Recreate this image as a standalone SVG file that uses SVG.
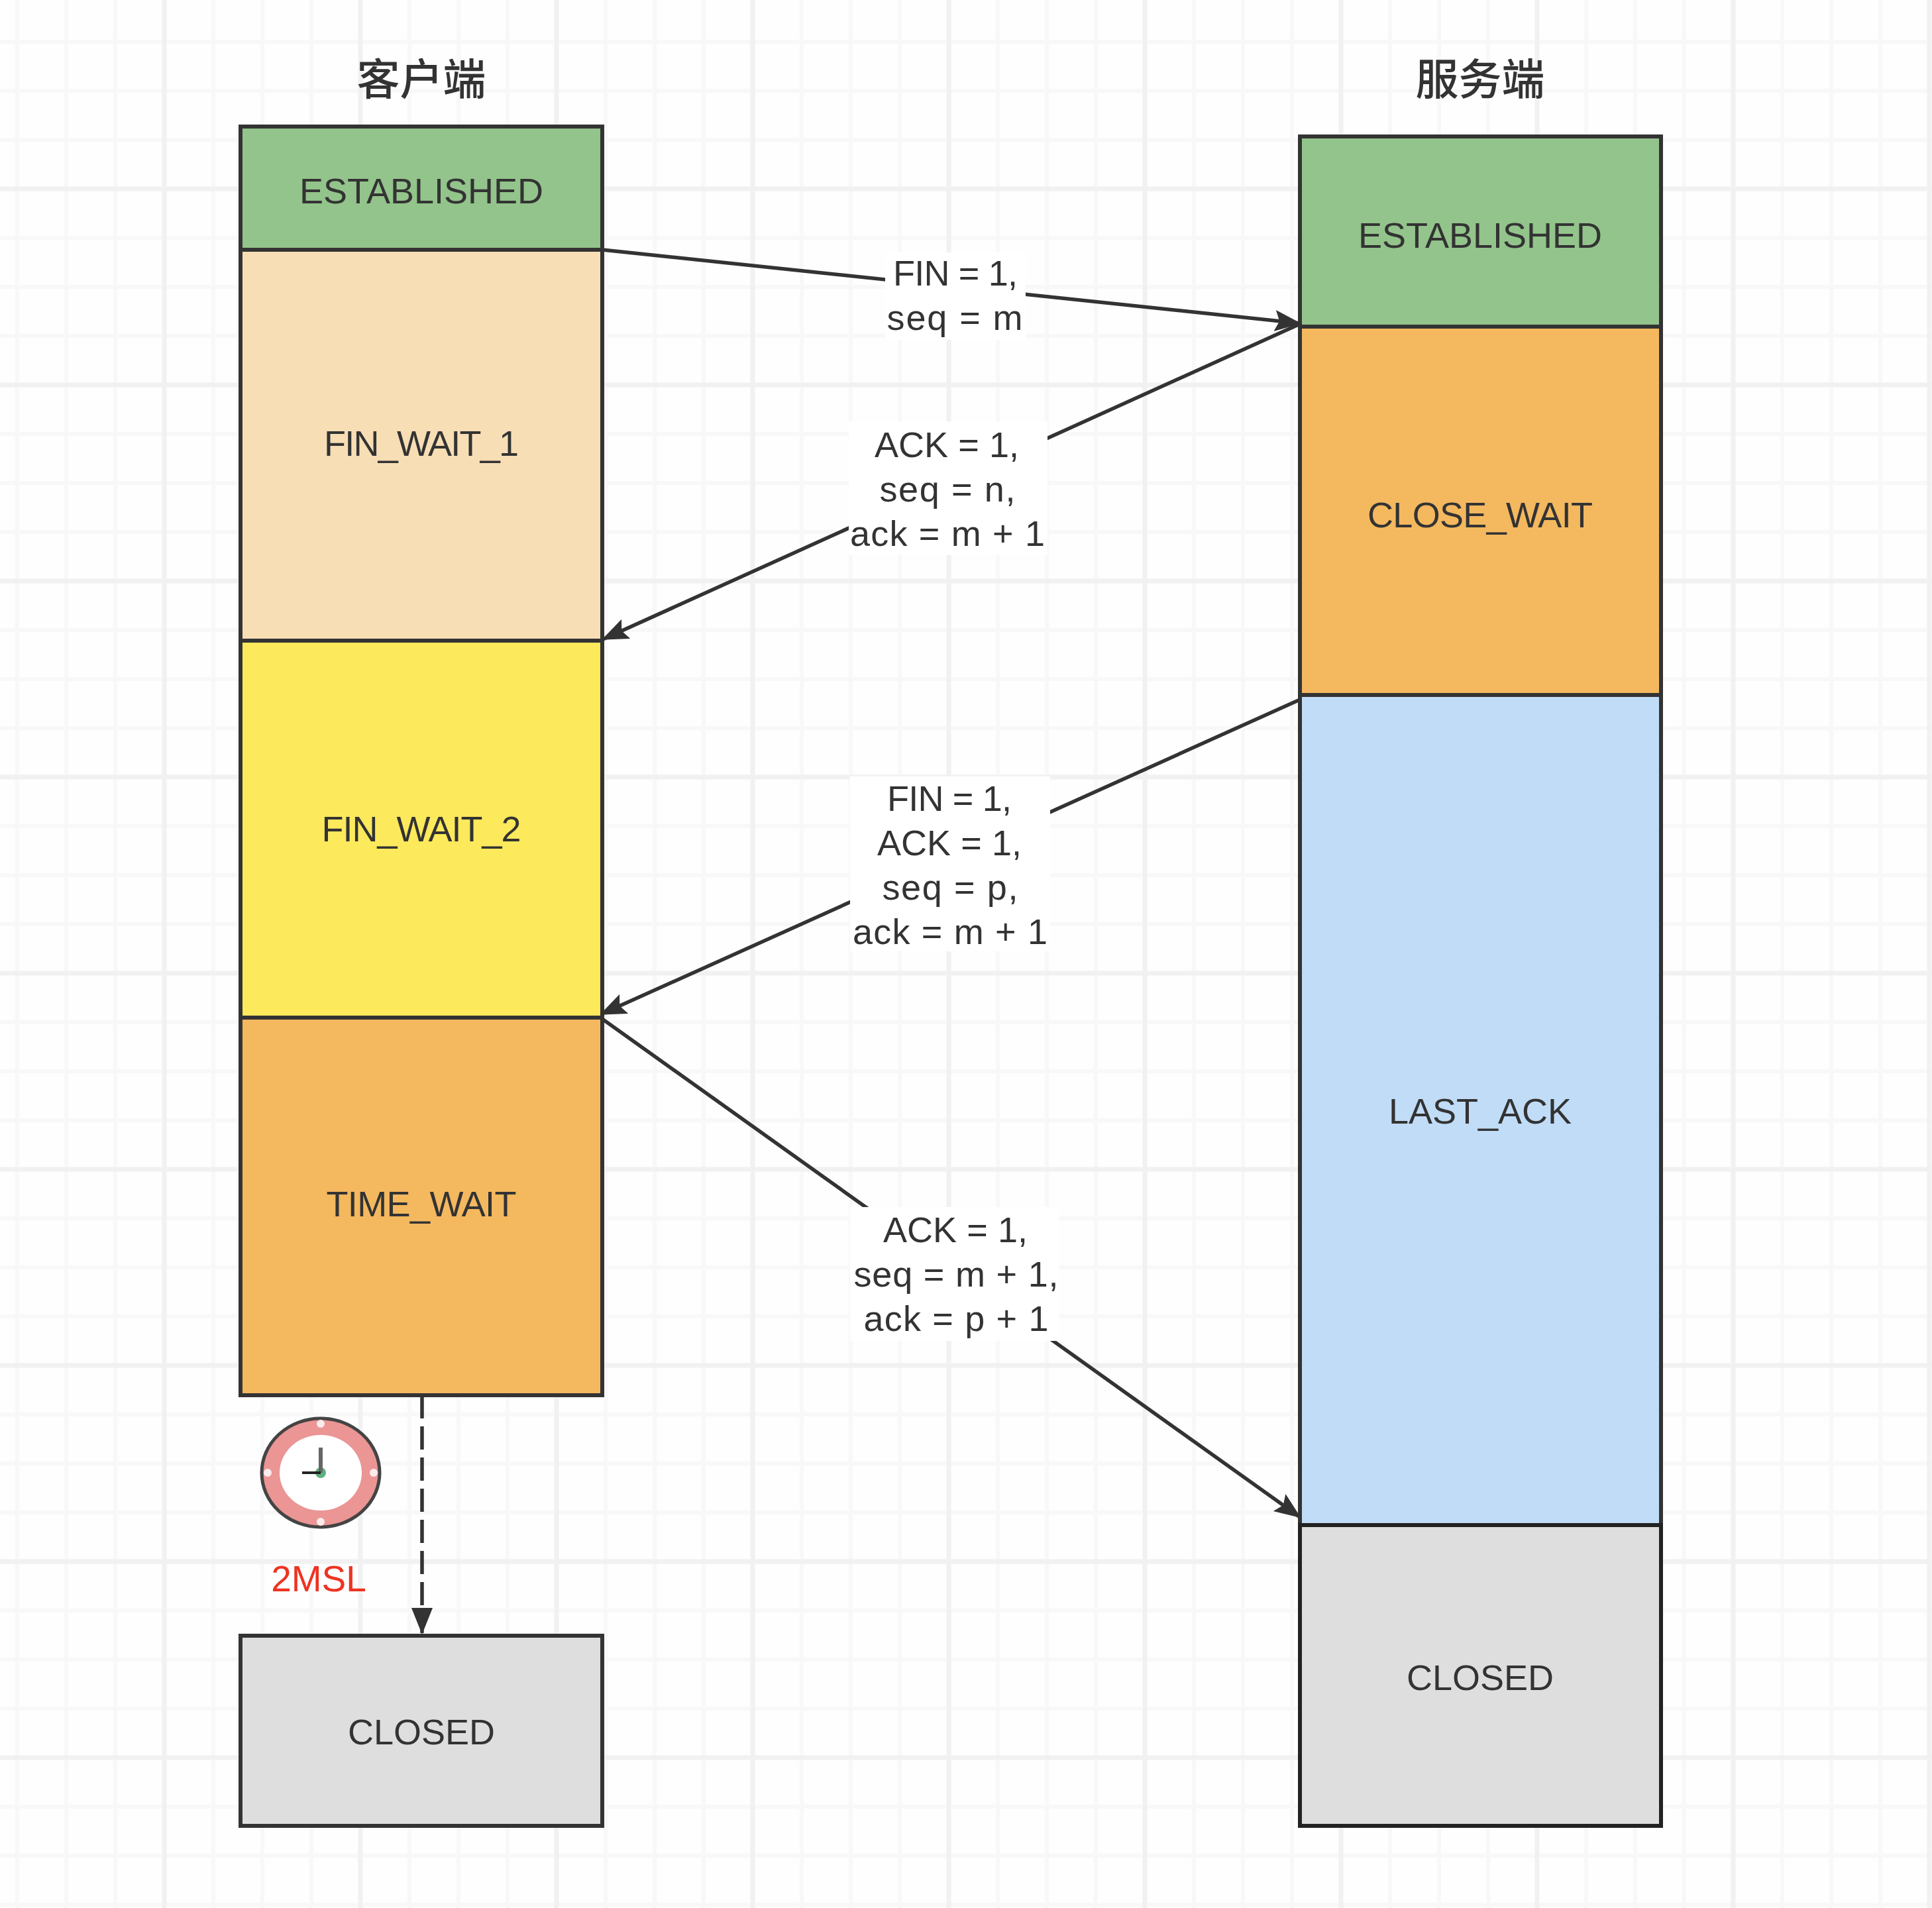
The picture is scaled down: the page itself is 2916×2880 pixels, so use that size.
<svg xmlns="http://www.w3.org/2000/svg" width="2916" height="2880" viewBox="0 0 2916 2880">
<style>
.n{stroke:#333;stroke-width:6}
.t{font-family:"Liberation Sans",Arial,sans-serif;font-size:54px;fill:#333;text-anchor:middle}
.h{font-family:"Noto Sans CJK SC",sans-serif;font-size:65px;font-weight:500;fill:#333;text-anchor:middle}
.e{fill:none;stroke:#333;stroke-width:5.5}
.lb{fill:#fff}
</style>
<defs>
<marker id="a" markerUnits="userSpaceOnUse" markerWidth="44" markerHeight="34" refX="38" refY="16" orient="auto" viewBox="0 0 44 32"><path d="M0 0L40 16L0 32L7 16z" fill="#333"/></marker>
<marker id="b" markerUnits="userSpaceOnUse" markerWidth="44" markerHeight="34" refX="38" refY="16" orient="auto" viewBox="0 0 44 32"><path d="M0 0L40 16L0 32z" fill="#333"/></marker>
<pattern id="g" width="296" height="296" patternUnits="userSpaceOnUse" x="-48" y="-11">
<rect width="296" height="296" fill="#fefefe"/>
<path d="M74 0V296M148 0V296M222 0V296M0 74H296M0 148H296M0 222H296" stroke="#f8f8f8" stroke-width="6" fill="none"/>
<path d="M0 0V296M296 0V296M0 0H296M0 296H296" stroke="#f1f1f1" stroke-width="7" fill="none"/>
</pattern>
</defs>
<rect id="grid" width="2916" height="2880" fill="url(#g)"/>
<text class="h" x="636" y="143">客户端</text>
<text class="h" x="2234" y="143">服务端</text>
<g id="c-established"><rect class="n" x="363" y="191" width="546" height="186" fill="#93c48b"/><text class="t" x="636" y="307">ESTABLISHED</text></g>
<g id="c-fin1"><rect class="n" x="363" y="377" width="546" height="590" fill="#f8deb5"/><text class="t" x="636" y="688" textLength="294">FIN_WAIT_1</text></g>
<g id="c-fin2"><rect class="n" x="363" y="967" width="546" height="569" fill="#fde95c"/><text class="t" x="636" y="1270" textLength="301">FIN_WAIT_2</text></g>
<g id="c-time"><rect class="n" x="363" y="1536" width="546" height="570" fill="#f4b85f"/><text class="t" x="636" y="1836" textLength="287">TIME_WAIT</text></g>
<g id="c-closed"><rect class="n" x="363" y="2469" width="546" height="287" fill="#dedede"/><text class="t" x="636" y="2633">CLOSED</text></g>
<g id="s-established"><rect class="n" x="1962" y="206" width="545" height="287" fill="#93c48b"/><text class="t" x="2234" y="374">ESTABLISHED</text></g>
<g id="s-close"><rect class="n" x="1962" y="493" width="545" height="556" fill="#f4b85f"/><text class="t" x="2234" y="796" textLength="340">CLOSE_WAIT</text></g>
<g id="s-last"><rect class="n" x="1962" y="1049" width="545" height="1253" fill="#c0dcf7"/><text class="t" x="2234" y="1696">LAST_ACK</text></g>
<g id="s-closed"><rect class="n" x="1962" y="2302" width="545" height="454" fill="#dedede" style="stroke:#222"/><text class="t" x="2234" y="2551">CLOSED</text></g>
<g id="clock">
<ellipse cx="484" cy="2223" rx="89" ry="82" fill="#eb9595" stroke="#444" stroke-width="5"/>
<ellipse cx="484" cy="2223" rx="62" ry="57" fill="#fff"/>
<g fill="#fbecec"><circle cx="484" cy="2149" r="6"/><circle cx="484" cy="2297" r="6"/><circle cx="404" cy="2223" r="6"/><circle cx="564" cy="2223" r="6"/></g>
<circle cx="484" cy="2223" r="8" fill="#5cb080"/>
<path d="M484 2185V2223" stroke="#666" stroke-width="6"/>
<path d="M456 2223H484" stroke="#222" stroke-width="4"/>
</g>
<text x="481" y="2402" font-family="Liberation Sans,Arial,sans-serif" font-size="55" fill="#ee3322" text-anchor="middle">2MSL</text>
<g id="connectors">
<path class="e" d="M909 377L1962 488" marker-end="url(#a)"/>
<path class="e" d="M1962 489L910 965" marker-end="url(#a)"/>
<path class="e" d="M1962 1056L907 1531" marker-end="url(#a)"/>
<path class="e" d="M909 1538L1962 2290" marker-end="url(#a)"/>
<path class="e" d="M637 2106V2465" stroke-dasharray="35 12" marker-end="url(#b)"/>
<g id="l1"><rect class="lb" x="1336" y="381" width="212" height="132"/><text class="t" x="1442" y="431" textLength="188">FIN = 1,</text><text class="t" x="1441" y="498" textLength="205">seq = m</text></g>
<g id="l2"><rect class="lb" x="1281" y="636" width="300" height="202"/><text class="t" x="1429" y="690" textLength="218">ACK = 1,</text><text class="t" x="1430" y="757" textLength="205">seq = n,</text><text class="t" x="1430" y="824" textLength="294">ack = m + 1</text></g>
<g id="l3"><rect class="lb" x="1283" y="1172" width="302" height="264"/><text class="t" x="1433" y="1224" textLength="188">FIN = 1,</text><text class="t" x="1433" y="1291" textLength="218">ACK = 1,</text><text class="t" x="1434" y="1358" textLength="205">seq = p,</text><text class="t" x="1434" y="1425" textLength="294">ack = m + 1</text></g>
<g id="l4"><rect class="lb" x="1283" y="1822" width="316" height="202"/><text class="t" x="1442" y="1875" textLength="218">ACK = 1,</text><text class="t" x="1443" y="1942" textLength="309">seq = m + 1,</text><text class="t" x="1443" y="2009" textLength="279">ack = p + 1</text></g>
</g>
</svg>
